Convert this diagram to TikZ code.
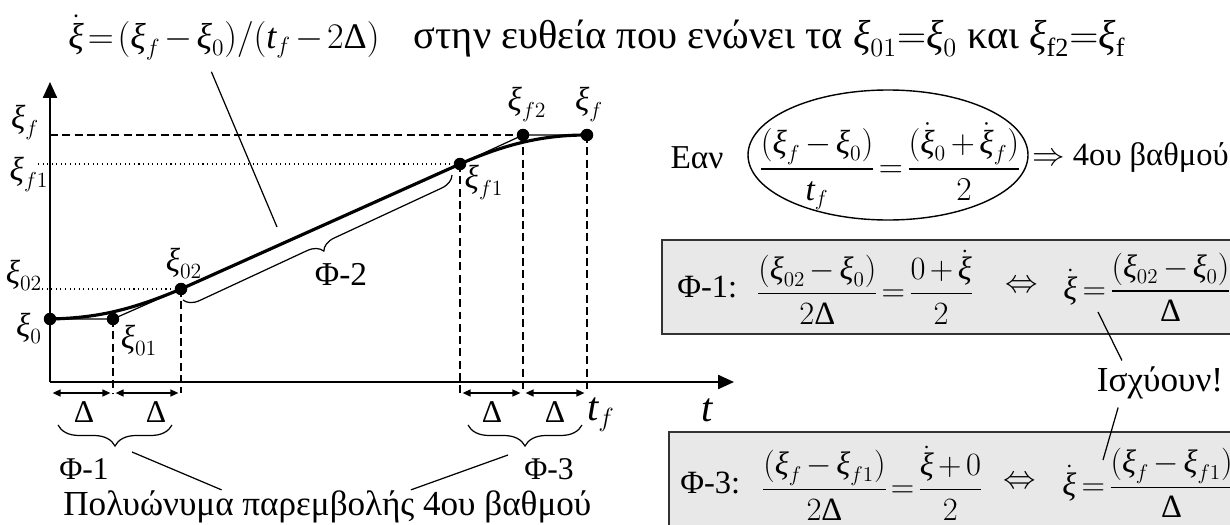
\documentclass[tikz,border=0pt]{standalone}
\usepackage{fix-cm}
\usepackage{amsmath}
\usepackage{fontspec}
\setmainfont{Liberation Serif}
\usetikzlibrary{arrows.meta,decorations.pathreplacing,calc}

\newcommand\xv{\text{\itshape ξ}}
\newcommand\xd{\dot{\xv}}
\newcommand\tv{\text{\itshape t}}
\newcommand\Dl{\text{Δ}}

%% tighter math spacing and smaller indices, as in the equation editor
\thinmuskip=2mu
\medmuskip=2.5mu
\thickmuskip=3mu
\nulldelimiterspace=0pt
\def\defaultscriptratio{.65}

\tikzset{
    axis/.style={line width=0.9pt, -{Triangle[length=9pt,width=8pt]}},
    thinpath/.style={line width=0.7pt},
    thickpath/.style={line width=1.8pt},
    guide/.style={line width=0.7pt, dash pattern=on 4.5pt off 2.5pt},
    dotguide/.style={line width=0.6pt, dotted},
    dimline/.style={line width=0.7pt, {Triangle[length=4.5pt,width=4pt]}-{Triangle[length=4.5pt,width=4pt]},
        shorten <=1.5pt, shorten >=1.5pt},
    dot/.style={circle, fill, inner sep=0pt, minimum size=0.25cm},
    bracedown/.style={decorate, decoration={brace, mirror, amplitude=0.42cm}, line width=0.7pt},
    pointer/.style={line width=0.7pt},
    eqbox/.style={draw=black!80, line width=1.2pt, fill=black!9},
    ptlabel/.style={font=\fontsize{19}{22}\selectfont},
    eqtext/.style={font=\fontsize{18.5}{22}\selectfont, anchor=west},
}

\begin{document}
\begin{tikzpicture}[
    x=0.02cm, y=-0.02cm,
    font=\fontsize{20}{24}\selectfont,
    every node/.append style={inner sep=0pt}
]

\useasboundingbox (0,0) rectangle (1230,524);

%% shaded boxes first (right side)
\draw[eqbox] (662,240) rectangle (1240,334);
\draw[eqbox] (669,432) rectangle (1240,532);

%% points of the motion law
\node[dot] (p0)  at (50,319)  {};
\node[dot] (p01) at (113,319) {};
\node[dot] (p02) at (181,289) {};
\node[dot] (pf1) at (460,164) {};
\node[dot] (pf2) at (523,135) {};
\node[dot] (pf)  at (587,135) {};

%% axes
\coordinate (o)    at (50,382);
\coordinate (xend) at (734,382);
\coordinate (yend) at (50,82);
\coordinate (foot) at (0,393);

%% guides
\draw[guide] (yend |- pf) -- (pf2.center);
\draw[dotguide] (38,164) -- (pf1.center);
\draw[dotguide] (33,289) -- (p02.center);
\foreach \p in {p01, p02, pf1, pf2, pf}
    \draw[guide] (\p.center) -- (\p |- foot);

\draw[axis] (o) -- (xend);
\draw[axis] (o) -- (yend);

%% straight pieces and the smooth curve
\draw[thinpath] (p0.center) -- (p01.center) -- (p02.center);
\draw[thinpath] (pf1.center) -- (pf2.center) -- (pf.center);
\draw[thickpath] (p0.center) .. controls (95,318) and (129,311) .. (p02.center)
    -- (pf1.center) .. controls (510,142) and (547,135) .. (pf.center);

%% labels of the points
\node[ptlabel] (lxf)   at (25,122)  {$\xv_f$};
\node[ptlabel] (lxfa)  at (29,174)  {$\xv_{f1}$};
\node[ptlabel] (lxob)  at (24,275)  {$\xv_{02}$};
\node[ptlabel] (lxo)   at (29,328)  {$\xv_0$};
\node[ptlabel] (lxoa)  at (139,340) {$\xv_{01}$};
\node[ptlabel] (lxobt) at (184,263) {$\xv_{02}$};
\node[ptlabel] (lxfar) at (484,182) {$\xv_{f1}$};
\node[ptlabel] (lxfb)  at (527,104) {$\xv_{f2}$};
\node[ptlabel] (lxft)  at (589,104) {$\xv_f$};

%% Delta intervals
\foreach \a/\b in {o/p01, p01/p02, pf1/pf2, pf2/pf}
    \draw[dimline] (\a |- foot) -- (\b |- foot);
\foreach \x/\n in {84/da, 156/db, 492/dc, 555/dd}
    \node[font=\fontsize{18}{21}\selectfont] (\n) at (\x,412) {Δ};

\node[font=\fontsize{23}{26}\selectfont] (ltf) at (601,415) {$\tv_f$};
\node[font=\fontsize{23}{26}\selectfont] (lt)  at (707,410) {$\tv$};

%% phases
\draw[bracedown] (58,425) -- (172,425);
\draw[bracedown] (468,425) -- (582,425);
\draw[decorate, decoration={brace, mirror, amplitude=0.3cm}, line width=0.7pt]
    (183,300) -- (452,175);

\node[font=\fontsize{19}{22}\selectfont] (phitwo) at (341,274) {Φ-2};
\node[font=\fontsize{18}{21}\selectfont] (phione)   at (84,469)  {Φ-1};
\node[font=\fontsize{18}{21}\selectfont] (phithree) at (549,469) {Φ-3};

\node[anchor=base west] (poly) at (63,515) {Πολυώνυμα παρεμβολής 4ου βαθμού};
\coordinate (tipone)   at (132,452);
\coordinate (tipthree) at (508,455);
\draw[pointer] (tipone) -- ($(poly.north west)!0.3!(poly.north east)$);
\draw[pointer] (tipthree) -- ($(poly.north west)!0.658!(poly.north east)$);

%% title
\node[anchor=base west, font=\fontsize{23}{27}\selectfont] (title) at (68,48)
    {{\fontsize{20.5}{24}\selectfont\medmuskip=2mu\thickmuskip=2mu
      $\xd=(\xv_f-\xv_0)/(\tv_f-2\Dl)$}\hspace{0.85em}στην ευθεία που ενώνει τα
     $\xv_{01}{=}\xv_0$ και $\xv_{\mathrm{f2}}{=}\xv_{\mathrm{f}}$};
\coordinate (titletip) at (277,227);
\draw[pointer, shorten <=7pt] ($(title.south west)!0.131!(title.south east)$) -- (titletip);

%% condition in the ellipse
\node[font=\fontsize{19}{22}\selectfont] (cond) at (890,166)
    {$\dfrac{(\xv_f-\xv_0)}{\tv_f}=\dfrac{(\dot{\xv}_0+\dot{\xv}_f)}{2}$};
\draw[line width=0.8pt] ($(cond.center)+(-2,-11)$) ellipse [x radius=140, y radius=65];
\node[font=\fontsize{19}{22}\selectfont] (ean) at (697,158) {Εαν};
\node[font=\fontsize{18.5}{22}\selectfont, anchor=west] (then) at (1032,158)
    {$\Rightarrow$ 4ου βαθμού};

%% the two phase equations
\node[eqtext] (labA)  at (677,287) {Φ-1:};
\node[eqtext] (fracA) at (758,287) {$\dfrac{(\xv_{02}-\xv_0)}{2\Dl}=\dfrac{0+\xd}{2}$};
\node[eqtext] (iffA)  at (1005,287) {$\Leftrightarrow$};
\node[eqtext] (rateA) at (1063,287) {$\xd=\dfrac{(\xv_{02}-\xv_0)}{\Dl}$};

\node[eqtext] (labB)  at (680,483) {Φ-3:};
\node[eqtext] (fracB) at (763,483) {$\dfrac{(\xv_f-\xv_{f1})}{2\Dl}=\dfrac{\xd+0}{2}$};
\node[eqtext] (iffB)  at (1003,483) {$\Leftrightarrow$};
\node[eqtext] (rateB) at (1062,483) {$\xd=\dfrac{(\xv_f-\xv_{f1})}{\Dl}$};

\node[font=\fontsize{20}{23}\selectfont] (isx) at (1160,383) {Ισχύουν!};
\coordinate (rtipA) at (1098,312);
\coordinate (rtipB) at (1103,460);
\draw[pointer] ($(isx.north west)!0.2!(isx.north east)+(0,-6)$) -- (rtipA);
\draw[pointer] ($(isx.south west)!0.17!(isx.south east)+(0,8)$) -- (rtipB);

\end{tikzpicture}
\end{document}
